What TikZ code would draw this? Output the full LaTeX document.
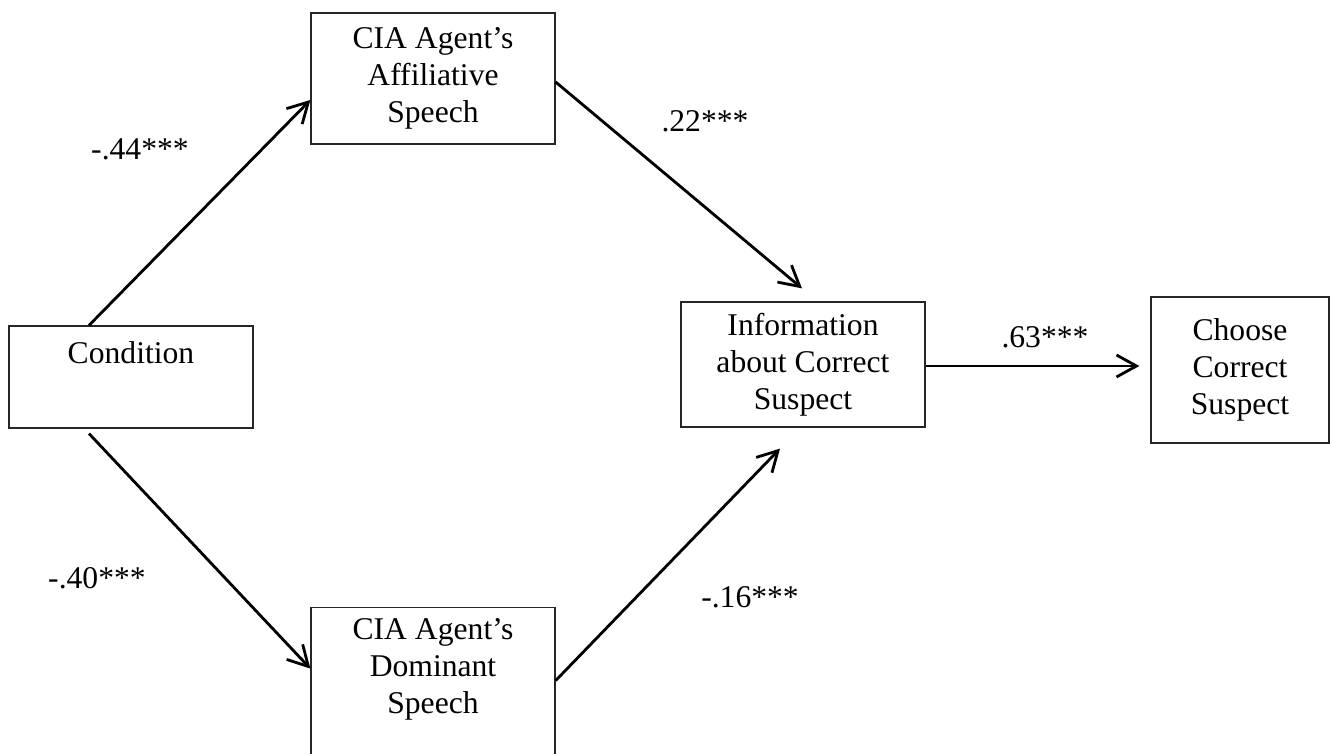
\documentclass[tikz,border=0pt]{standalone}
\usepackage{fontspec}
\setmainfont{Liberation Serif}
\usetikzlibrary{arrows.meta,positioning}
\tikzset{
  varbox/.style={draw=black!85,line width=0.7pt,align=center,
    minimum width=4.88cm,font=\fontsize{18}{21}\selectfont},
  boxtext/.style={align=center,font=\fontsize{18}{21}\selectfont},
  pathlabel/.style={font=\fontsize{18}{21}\selectfont},
  patharrow/.style={-{Straight Barb[length=4mm,width=4.4mm]},line width=1.6pt}
}
\begin{document}
\begin{tikzpicture}
  \useasboundingbox (0,0) rectangle (26.62,15.08);
  % variables
  \node[varbox,minimum height=2.04cm,text height=12pt,text depth=27pt] (cond) at (2.62,7.54) {Condition};
  \node[varbox,minimum height=2.62cm] (aff) at (8.66,13.51) {CIA Agent's\\Affiliative\\Speech};
  \node[varbox,minimum height=3.2cm,anchor=north] (dom) at (8.66,2.94) {};
  \node[boxtext,below=0.1cm of dom.north] (domtext) {CIA Agent's\\Dominant\\Speech};
  \node[varbox,minimum height=2.5cm] (info) at (16.06,7.79) {Information\\about Correct\\Suspect};
  \node[varbox,minimum width=3.56cm,minimum height=2.92cm] (choose) at (24.8,7.68) {Choose\\Correct\\Suspect};
  % paths
  \draw[patharrow] ([xshift=-0.84cm]cond.north) -- ([yshift=-0.43cm]aff.west);
  \draw[patharrow] ([xshift=-0.84cm,yshift=-0.1cm]cond.south) -- ([yshift=0.38cm]dom.west);
  \draw[patharrow] ([yshift=-0.07cm]aff.east) -- ([xshift=-0.02cm,yshift=0.26cm]info.north);
  \draw[patharrow] ([yshift=0.14cm]dom.east) -- ([xshift=-0.46cm,yshift=-0.42cm]info.south);
  \draw[patharrow] ([yshift=-0.03cm]info.east) -- ([xshift=-0.22cm,yshift=0.08cm]choose.west);
  % coefficients
  \node[pathlabel] (c44) at (2.80,12.10) {-.44***};
  \node[pathlabel] (c22) at (14.10,12.66) {.22***};
  \node[pathlabel] (c40) at (1.94,3.52) {-.40***};
  \node[pathlabel] (c16) at (15.00,3.14) {-.16***};
  \node[pathlabel] (c63) at (20.90,8.34) {.63***};
\end{tikzpicture}
\end{document}
